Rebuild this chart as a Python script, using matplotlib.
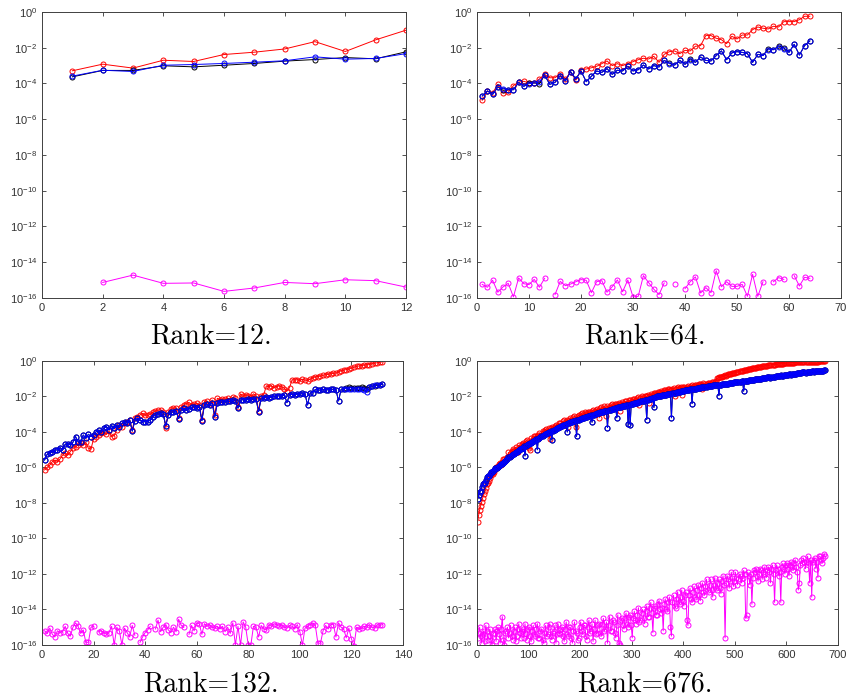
import numpy as np
import matplotlib
matplotlib.use('Agg')
import matplotlib.pyplot as plt

nan = np.nan

# log10 of the plotted errors (one value per index)
red_12 = [-3.29, -2.92, -3.14, -2.70, -2.77, -2.38, -2.25, -2.07, -1.66, -2.21, -1.56, -1.02]
black_12 = [-3.63, -3.27, -3.27, -3.01, -3.07, -2.98, -2.88, -2.75, -2.66, -2.55, -2.62, -2.23]
blue_12 = [-3.59, -3.26, -3.33, -2.98, -2.94, -2.88, -2.81, -2.73, -2.51, -2.64, -2.60, -2.33]
magenta_12 = [nan, -15.13, -14.72, -15.18, -15.16, -15.63, -15.44, -15.13, -15.20, -14.98, -15.03, -15.39]

red_64 = [-4.94, -4.42, -4.53, -4.05, -4.53, -4.50, -4.12, -3.92, -3.88, -3.97,
          -3.97, -3.75, -3.49, -3.68, -3.68, -3.45, -3.75, -3.36, -3.82, -3.23,
          -3.19, -3.12, -3.04, -2.89, -2.74, -3.00, -2.89, -3.00, -2.89, -2.78,
          -2.67, -2.59, -2.63, -2.48, -2.82, -2.37, -2.22, -2.18, -2.33, -2.15,
          -2.18, -1.92, -1.88, -1.32, -1.32, -1.47, -1.55, -1.77, -1.36, -1.51,
          -1.29, -1.29, -0.99, -0.84, -0.91, -0.95, -0.80, -0.84, -0.54, -0.54,
          -0.54, -0.43, -0.24, -0.24]
black_64 = [-4.70, -4.42, -4.61, -4.20, -4.38, -4.35, -4.35, -3.94, -4.16, -3.95,
            -3.97, -4.02, -3.53, -4.05, -3.94, -3.56, -3.86, -3.34, -3.75, -3.30,
            -3.90, -3.60, -3.30, -3.38, -3.17, -3.49, -3.26, -3.30, -3.04, -3.30,
            -3.23, -2.97, -3.19, -3.00, -3.08, -2.71, -2.86, -2.97, -2.71, -2.93,
            -2.62, -2.82, -2.52, -2.71, -2.74, -2.44, -2.18, -2.67, -2.29, -2.22,
            -2.26, -2.33, -2.82, -2.37, -2.44, -2.05, -2.11, -1.90, -2.00, -2.26,
            -1.81, -2.41, -1.88, -1.62]
blue_64 = [-4.70, -4.42, -4.61, -4.20, -4.29, -4.35, -4.35, -3.94, -4.16, -4.01,
           -3.97, -3.92, -3.53, -4.05, -3.94, -3.56, -3.86, -3.34, -3.75, -3.30,
           -3.90, -3.60, -3.30, -3.38, -3.17, -3.49, -3.26, -3.30, -3.04, -3.30,
           -3.23, -2.97, -3.19, -3.00, -3.08, -2.71, -2.89, -2.97, -2.71, -2.93,
           -2.67, -2.82, -2.52, -2.71, -2.74, -2.44, -2.18, -2.67, -2.29, -2.22,
           -2.26, -2.33, -2.82, -2.37, -2.44, -2.11, -2.11, -1.96, -2.07, -2.26,
           -1.81, -2.41, -1.88, -1.62]
magenta_64 = [-15.24, -15.40, -15.01, -15.68, -15.38, -15.18, -15.94, -14.88, -15.20, -15.25,
              -14.96, -15.40, -14.90, nan, -15.81, -15.07, -15.31, -15.22, -15.09, -14.97,
              -15.01, -15.70, -15.09, -15.03, -15.68, -15.37, -14.99, -15.65, -14.99, -15.94,
              -15.91, -14.75, -15.14, -15.51, -15.81, -15.16, nan, -15.24, nan, -15.48,
              -15.09, -14.82, -15.72, -15.42, -15.70, -14.47, -15.37, -15.09, -15.35, -15.35,
              -15.24, -15.91, -14.68, -15.91, -15.09, nan, -15.09, -14.86, -14.96, nan,
              -14.75, -15.33, -14.84, -14.90]

red_132 = [-6.14, -6.00, -5.86, -5.67, -5.58, -5.67, -5.52, -5.30, -5.20, -5.30,
           -5.10, -4.92, -4.83, -4.73, -4.64, -4.73, -4.58, -4.92, -4.96, -4.39,
           -4.26, -4.17, -4.07, -4.02, -4.13, -3.94, -4.26, -4.20, -3.89, -3.60,
           -3.70, -3.51, -3.42, -3.32, -3.89, -3.23, -3.14, -3.04, -2.95, -3.04,
           -3.07, -3.00, -2.89, -2.82, -2.76, -2.76, -2.85, -3.76, -2.85, -2.70,
           -2.67, -2.63, -3.23, -2.57, -2.48, -2.40, -2.33, -2.48, -2.45, -2.38,
           -2.48, -3.32, -2.29, -2.25, -2.45, -2.20, -3.04, -2.10, -2.20, -2.15,
           -2.15, -2.10, -2.20, -2.05, -2.10, -2.60, -1.85, -2.00, -1.90, -1.95,
           -2.05, -1.85, -1.95, -2.80, -1.95, -1.90, -1.40, -1.45, -1.40, -1.50,
           -1.45, -1.40, -1.45, -1.55, -1.70, -1.50, -1.05, -1.08, -1.05, -1.10,
           -1.03, -1.07, -1.10, -1.02, -0.95, -0.90, -0.88, -0.85, -0.80, -0.78,
           -0.75, -0.72, -0.70, -0.68, -0.62, -0.55, -0.52, -0.48, -0.45, -0.40,
           -0.35, -0.30, -0.28, -0.26, -0.23, -0.22, -0.20, -0.15, -0.12, -0.10,
           -0.07, -0.05]
blue_132 = [-5.58, -5.26, -5.20, -5.11, -5.01, -5.01, -4.88, -5.01, -4.69, -4.69,
            -4.72, -4.58, -4.26, -4.55, -4.58, -4.17, -4.36, -4.13, -4.26, -4.17,
            -3.98, -3.89, -3.98, -3.79, -3.70, -3.89, -3.64, -3.79, -3.60, -3.70,
            -3.51, -3.42, -3.51, -3.32, -3.95, -3.38, -3.23, -3.32, -3.42, -3.42,
            -3.42, -3.32, -3.14, -3.04, -3.00, -2.95, -3.00, -3.64, -3.04, -2.85,
            -2.90, -2.82, -3.25, -2.76, -2.67, -2.76, -2.70, -2.62, -2.57, -2.67,
            -2.57, -3.36, -2.48, -2.45, -2.48, -2.38, -3.14, -2.38, -2.29, -2.33,
            -2.30, -2.25, -2.28, -2.22, -2.25, -2.66, -2.20, -2.18, -2.22, -2.15,
            -2.20, -2.12, -2.15, -2.85, -2.10, -2.08, -2.05, -2.10, -2.02, -1.98,
            -2.00, -1.95, -1.98, -1.92, -2.35, -1.90, -1.88, -1.92, -1.85, -1.88,
            -1.83, -1.86, -2.48, -1.80, -1.78, -1.60, -1.62, -1.65, -1.60, -1.63,
            -1.62, -1.58, -1.60, -1.62, -2.25, -1.60, -1.57, -1.55, -1.57, -1.60,
            -1.55, -1.58, -1.60, -1.56, -1.62, -1.75, -1.45, -1.42, -1.38, -1.35,
            -1.33, -1.30]
# black run sits under the blue one except near the end
black_132_tail = [-1.60, -1.57, -1.50, -1.48, -1.50, -1.52, -1.50, -1.52, -1.48, -1.50,
                  -1.55, -1.45, -1.42, -1.40, -1.38, -1.35, -1.32]
black_132 = blue_132[:115] + black_132_tail
magenta_132 = [-15.20, -15.35, -15.05, -15.40, -15.55, -15.20, -15.30, -15.25, -14.95, -15.35,
               -15.50, -15.00, -14.75, -14.95, -15.35, -15.15, -15.85, -15.85, -15.00, -14.95,
               nan, -15.25, -15.20, -15.30, -15.40, -15.30, -14.95, -16.00, -15.00, -15.20,
               -16.00, -15.05, -15.30, -15.55, -14.90, -15.45, nan, -15.85, -15.55, -15.30,
               -15.15, -14.95, nan, -15.10, -14.60, -15.25, -15.00, -14.85, -15.15, -15.30,
               -15.00, -15.25, -14.55, -14.90, -15.00, nan, -15.40, -14.90, -15.20, -14.75,
               -14.80, -15.40, -14.80, -14.95, -14.85, -15.00, -15.05, -14.95, -15.10, -14.95,
               -15.25, -15.00, -15.35, -14.75, -16.00, -14.95, -16.00, -14.70, -15.00, -16.00,
               -16.00, -14.95, -15.00, -15.55, -14.90, -15.10, -15.15, -14.85, -14.95, -14.80,
               -14.85, -14.95, -14.85, -15.00, -15.05, -14.90, -14.95, -15.10, -14.85, -15.25,
               -16.00, -15.05, -14.95, -14.85, -14.75, -14.90, -15.90, -15.90, -15.20, -14.90,
               -15.10, -14.85, -14.85, -15.55, -14.75, -15.00, -15.10, -15.60, -15.05, -15.65,
               -16.05, -15.00, -15.10, -15.05, -14.95, -15.00, -14.85, -15.00, -15.05, -14.85,
               -14.90, -14.85]

# rank 676, read at every other index: *_a at 1, 5, 9, ..., *_b at 3, 7, 11, ...
red_676_a = [-9.05, -8.40, -7.95, -7.50, -7.15, -6.85, -6.60, -6.30, -6.25, -6.00,
             -5.90, -5.75, -5.70, -5.50, -5.55, -5.15, -5.20, -4.95, -5.00, -4.95,
             -4.75, -4.85, -4.60, -4.65, -4.45, -4.90, -4.35, -4.40, -4.20, -4.25,
             -4.05, -4.15, -4.00, -3.85, -3.95, -4.40, -3.70, -3.80, -3.60, -3.65,
             -3.50, -3.60, -3.35, -3.45, -3.70, -3.20, -3.30, -3.10, -3.25, -3.05,
             -3.00, -3.10, -2.90, -3.00, -2.85, -2.95, -2.78, -2.85, -2.70, -3.20,
             -2.62, -2.70, -2.65, -2.52, -2.60, -2.45, -2.55, -2.40, -2.45, -2.80,
             -2.30, -2.40, -2.25, -2.35, -2.20, -2.25, -2.12, -2.20, -2.05, -2.10,
             -2.02, -1.95, -2.00, -2.35, -1.85, -1.90, -1.78, -1.85, -1.75, -1.68,
             -1.75, -1.62, -1.68, -1.58, -1.62, -1.52, -1.58, -1.48, -1.52, -1.90,
             -1.47, -1.53, -1.40, -1.47, -1.37, -1.43, -1.33, -1.37, -1.27, -1.60,
             -1.28, -1.32, -1.22, -1.28, -1.18, -1.20, -0.95, -0.90, -0.92, -0.85,
             -0.80, -0.78, -0.75, -0.72, -0.68, -0.65, -0.62, -0.58, -0.55, -0.52,
             -0.50, -0.47, -0.45, -0.42, -0.40, -0.37, -0.35, -0.33, -0.31, -0.29,
             -0.27, -0.25, -0.23, -0.22, -0.20, -0.19, -0.17, -0.16, -0.15, -0.13,
             -0.12, -0.11, -0.10, -0.09, -0.08, -0.08, -0.07, -0.06, -0.06, -0.05,
             -0.05, -0.04, -0.04, -0.03, -0.03, -0.03, -0.02, -0.02, -0.02]
red_676_b = [-8.70, -8.15, -7.70, -7.35, -6.95, -6.75, -6.45, -6.35, -6.10, -6.05,
             -5.80, -5.85, -5.55, -5.65, -5.40, -5.35, -5.05, -5.15, -4.85, -5.10,
             -4.85, -4.65, -4.75, -4.50, -4.60, -5.00, -4.50, -4.25, -4.35, -4.15,
             -4.20, -3.95, -3.90, -4.00, -3.80, -3.75, -3.85, -3.65, -3.75, -3.50,
             -3.65, -3.40, -3.50, -3.30, -3.35, -3.35, -3.15, -3.70, -3.10, -3.15,
             -2.95, -3.05, -2.95, -2.85, -3.00, -2.80, -2.90, -2.75, -2.80, -2.65,
             -2.75, -2.55, -3.10, -2.65, -2.50, -2.58, -2.42, -2.52, -2.35, -2.40,
             -2.45, -2.28, -2.38, -2.20, -2.30, -2.15, -2.25, -2.08, -2.50, -2.00,
             -2.10, -2.00, -1.90, -1.95, -2.00, -1.82, -1.88, -1.75, -1.82, -1.72,
             -1.65, -1.70, -1.60, -1.65, -1.55, -2.00, -1.50, -1.55, -1.45, -1.48,
             -1.53, -1.45, -1.50, -1.40, -1.45, -1.35, -1.40, -1.30, -1.35, -1.25,
             -1.35, -1.25, -1.30, -1.20, -1.25, -1.15, -0.98, -0.93, -0.88, -0.87,
             -0.82, -0.76, -0.74, -0.70, -0.67, -0.63, -0.60, -0.57, -0.54, -0.51,
             -0.48, -0.46, -0.43, -0.41, -0.38, -0.36, -0.34, -0.32, -0.30, -0.28,
             -0.26, -0.24, -0.22, -0.21, -0.19, -0.18, -0.16, -0.15, -0.14, -0.12,
             -0.11, -0.10, -0.09, -0.09, -0.08, -0.07, -0.06, -0.06, -0.05, -0.05,
             -0.04, -0.04, -0.03, -0.03, -0.03, -0.02, -0.02, -0.02, -0.02]
blue_676_a = [-7.80, -7.40, -7.10, -6.90, -6.70, -6.50, -6.38, -6.25, -6.15, -6.05,
              -5.95, -5.88, -5.78, -5.70, -5.60, -5.40, -5.35, -5.25, -5.18, -5.10,
              -5.02, -4.95, -4.88, -5.35, -4.72, -4.68, -4.60, -4.52, -4.45, -5.00,
              -4.32, -4.22, -4.18, -4.10, -4.05, -3.98, -4.45, -3.90, -3.85, -3.75,
              -3.70, -3.65, -3.60, -3.55, -3.50, -3.45, -3.42, -3.38, -4.25, -3.30,
              -3.25, -3.22, -3.18, -3.15, -3.10, -3.05, -3.03, -3.00, -2.95, -2.92,
              -2.88, -2.85, -2.82, -3.75, -2.75, -2.72, -2.68, -2.65, -2.62, -2.60,
              -2.55, -2.52, -2.50, -3.55, -3.58, -2.42, -2.38, -2.35, -2.32, -2.28,
              -2.25, -2.22, -3.30, -2.15, -2.12, -2.08, -2.05, -2.00, -1.98, -1.95,
              -1.92, -1.90, -1.88, -1.85, -3.20, -1.80, -1.78, -1.75, -1.72, -1.70,
              -1.68, -1.65, -1.62, -1.60, -2.40, -1.57, -1.55, -1.52, -1.50, -1.48,
              -1.46, -1.44, -1.42, -1.40, -1.38, -1.37, -1.35, -1.95, -1.33, -1.32,
              -1.30, -1.28, -1.26, -1.24, -1.22, -1.20, -1.18, -1.17, -1.15, -1.70,
              -1.12, -1.10, -1.08, -1.07, -1.05, -1.03, -1.02, -1.00, -0.98, -0.96,
              -0.95, -0.90, -0.94, -0.88, -0.90, -0.84, -0.86, -0.80, -0.84, -0.78,
              -0.80, -0.75, -0.78, -0.72, -0.74, -0.68, -0.70, -0.66, -0.63, -0.65,
              -0.60, -0.62, -0.58, -0.60, -0.55, -0.57, -0.54, -0.58, -0.53]
blue_676_b = [-7.55, -7.30, -6.95, -6.85, -6.55, -6.50, -6.28, -6.22, -6.05, -6.02,
              -5.90, -5.80, -5.72, -5.65, -5.50, -5.42, -5.28, -5.22, -5.15, -5.05,
              -4.98, -4.92, -4.80, -4.78, -4.70, -4.62, -4.58, -4.48, -4.40, -4.38,
              -4.28, -4.20, -4.12, -4.08, -4.00, -3.95, -3.92, -3.88, -3.80, -3.72,
              -3.68, -3.62, -3.58, -4.00, -3.48, -3.44, -3.40, -3.35, -3.32, -3.28,
              -3.24, -3.20, -3.16, -3.12, -3.08, -3.45, -3.02, -2.98, -2.94, -2.90,
              -2.86, -2.84, -2.80, -2.78, -2.74, -2.70, -2.66, -3.20, -2.60, -2.58,
              -2.54, -2.51, -2.48, -2.46, -2.44, -2.40, -2.36, -2.34, -2.30, -2.27,
              -2.24, -2.20, -2.18, -2.14, -2.10, -2.62, -2.02, -1.99, -1.96, -1.94,
              -1.91, -1.89, -1.86, -1.84, -1.82, -1.79, -1.76, -1.74, -1.71, -1.69,
              -1.66, -1.64, -1.61, -1.59, -1.58, -1.56, -1.54, -1.51, -1.49, -1.47,
              -1.45, -1.43, -1.41, -1.39, -1.38, -1.36, -1.34, -1.33, -1.32, -1.31,
              -1.29, -1.27, -1.25, -1.23, -1.21, -1.19, -1.18, -1.16, -1.14, -1.13,
              -1.11, -1.09, -1.08, -1.06, -1.04, -1.03, -1.01, -0.99, -0.97, -0.95,
              -0.92, -0.92, -0.91, -0.89, -0.87, -0.85, -0.83, -0.82, -0.81, -0.79,
              -0.77, -0.76, -0.75, -0.73, -0.71, -0.69, -0.68, -0.64, -0.64, -0.62,
              -0.61, -0.60, -0.59, -0.57, -0.56, -0.55, -0.56, -0.55, -0.52]
magenta_676_a = [-15.6, -15.0, -15.9, -15.2, -14.9, -15.7, -15.1, -16.0, -15.3, -15.8,
                 -15.0, -15.9, -14.4, -16.0, -15.2, -15.6, -14.9, -15.7, -15.0, -15.5,
                 -14.8, -15.6, -15.1, -14.8, -15.7, -15.0, -15.8, -14.9, -15.5, -14.8,
                 -15.6, -15.1, -15.9, -14.9, -15.4, -14.8, -15.7, -15.2, -15.9, -14.8,
                 -15.4, -15.0, -15.8, -14.7, -15.5, -15.0, -15.9, -14.7, -15.3, -15.6,
                 -14.7, -15.4, -14.9, -15.7, -14.6, -15.2, -15.8, -14.6, -15.3, -14.8,
                 -15.5, -14.5, -15.1, -15.9, -14.4, -15.2, -14.7, -15.6, -14.3, -16.0,
                 -14.5, -15.1, -14.2, -15.0, -14.3, -15.6, -14.1, -14.8, -13.9, -14.6,
                 -14.0, -14.8, -13.8, -14.4, -13.6, -15.3, -13.8, -14.3, -13.5, -14.2,
                 -15.2, -13.4, -14.1, -13.3, -15.5, -13.2, -13.9, -13.0, -13.7, -12.9,
                 -13.8, -13.0, -14.9, -12.8, -13.6, -12.7, -13.4, -12.6, -13.5, -12.5,
                 -13.2, -12.3, -13.0, -12.3, -13.3, -12.2, -12.9, -12.3, -13.1, -12.1,
                 -15.6, -12.1, -12.8, -11.9, -12.7, -11.9, -12.6, -12.0, -12.5, -11.8,
                 -14.5, -11.9, -12.6, -13.7, -11.8, -11.7, -12.4, -11.7, -12.3, -11.6,
                 -12.2, -11.6, -12.5, -11.5, -13.6, -11.5, -12.1, -13.6, -11.4, -12.0,
                 -11.4, -12.1, -11.3, -11.8, -11.2, -11.9, -12.5, -11.2, -11.1, -11.7,
                 -11.0, -12.5, -13.3, -11.2, -11.7, -12.2, -11.0, -11.4, -10.85]
magenta_676_b = [-15.3, -15.5, -15.4, -15.8, -15.2, -15.5, -15.7, -15.4, -15.1, -15.2,
                 -15.4, -15.1, -15.7, -15.3, -15.0, -15.3, -15.5, -15.2, -15.8, -15.1,
                 -15.3, -15.2, -15.6, -15.4, -15.1, -15.5, -15.2, -15.4, -15.1, -15.6,
                 -15.2, -15.7, -15.3, -15.5, -15.0, -15.5, -15.3, -14.9, -15.4, -15.3,
                 -15.1, -15.5, -15.1, -15.4, -15.0, -15.6, -15.2, -15.2, -15.7, -15.0,
                 -15.2, -14.9, -15.5, -15.0, -15.3, -14.8, -15.1, -15.4, -14.9, -15.3,
                 -14.8, -15.2, -14.7, -14.9, -15.2, -14.6, -15.3, -14.9, -15.9, -14.6,
                 -14.9, -14.5, -14.8, -14.4, -14.9, -14.5, -14.6, -14.3, -14.7, -14.2,
                 -14.5, -14.1, -14.4, -13.9, -14.2, -13.9, -14.3, -13.7, -14.0, -13.9,
                 -13.7, -14.0, -13.6, -15.0, -13.6, -13.8, -13.4, -13.6, -13.3, -13.5,
                 -13.2, -14.6, -13.2, -13.4, -13.0, -13.3, -12.9, -13.2, -12.8, -13.0,
                 -12.7, -12.9, -12.6, -12.9, -12.6, -12.8, -12.5, -12.8, -12.4, -12.6,
                 -12.5, -12.3, -12.4, -12.2, -12.4, -12.2, -12.3, -12.1, -12.2, -12.0,
                 -14.3, -12.1, -12.0, -12.2, -11.9, -12.1, -12.0, -11.8, -11.9, -12.0,
                 -11.8, -11.9, -11.7, -12.0, -11.8, -11.7, -11.9, -11.6, -11.7, -11.5,
                 -11.7, -11.5, -11.6, -11.4, -11.6, -12.9, -11.5, -11.4, -11.3, -11.3,
                 -11.4, -11.2, -11.3, -11.1, -11.3, -11.0, -11.2, -11.1, -11.0]

x_12 = np.arange(1, 13)
x_64 = np.arange(1, 65)
x_132 = np.arange(1, 133)
x_676 = np.arange(1, 677, 2)

plt.rcParams['font.family'] = ['Liberation Sans', 'DejaVu Sans']
plt.rcParams['xtick.direction'] = 'in'
plt.rcParams['ytick.direction'] = 'in'
plt.rcParams['xtick.top'] = True
plt.rcParams['ytick.right'] = True


def interleave(a, b):
    return list(np.column_stack([a, b]).ravel())


red_676 = interleave(red_676_a, red_676_b)
blue_676 = interleave(blue_676_a, blue_676_b)
black_676 = blue_676  # hidden under the blue run
magenta_676 = interleave(magenta_676_a, magenta_676_b)


def panel(rect, x, red, black, blue, magenta, xmax, xstep, caption, cx, cy):
    ax = fig.add_axes(rect)
    for vals, col in [(red, 'red'), (black, 'black'), (blue, 'blue'), (magenta, 'magenta')]:
        ax.plot(x, 10.0 ** np.array(vals), '-o', color=col, lw=0.7, ms=3.6,
                mew=0.7, mfc='none')
    ax.set_yscale('log')
    ax.set_ylim(1e-16, 1)
    ax.set_yticks([10.0 ** e for e in range(-16, 1, 2)])
    ax.minorticks_off()
    ax.set_xlim(0, xmax)
    ax.set_xticks(np.arange(0, xmax + 1, xstep))
    ax.tick_params(labelsize=8, colors='0.2', length=3, width=0.6)
    for s in ax.spines.values():
        s.set_color('0.25')
        s.set_linewidth(0.7)
    fig.text(cx, cy, caption, family='cmr10', fontsize=20, ha='center', va='baseline')
    return ax


fig = plt.figure(figsize=(8.5, 7), dpi=100)
panel([0.0494, 0.5743, 0.4282, 0.4086], x_12, red_12, black_12, blue_12, magenta_12,
      12, 2, 'Rank=12.', 211 / 850, 1 - 343 / 700)
panel([0.5612, 0.5743, 0.4282, 0.4086], x_64, red_64, black_64, blue_64, magenta_64,
      70, 10, 'Rank=64.', 645 / 850, 1 - 343 / 700)
panel([0.0494, 0.0786, 0.4247, 0.4057], x_132, red_132, black_132, blue_132, magenta_132,
      140, 20, 'Rank=132.', 211 / 850, 1 - 691 / 700)
panel([0.5612, 0.0786, 0.4247, 0.4057], x_676, red_676, black_676, blue_676, magenta_676,
      700, 100, 'Rank=676.', 645 / 850, 1 - 691 / 700)

fig.savefig('out.png', dpi=100)
